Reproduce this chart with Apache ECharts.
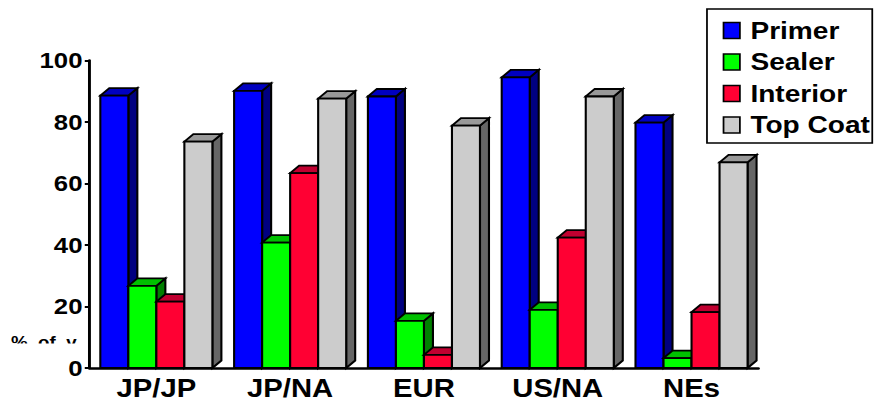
<!DOCTYPE html>
<html>
<head>
<meta charset="utf-8">
<script src="https://cdn.jsdelivr.net/npm/echarts@6/dist/echarts.min.js"></script>
<style>
html,body{margin:0;padding:0;background:#fff;overflow:hidden;}
#c{width:750px;height:404px;transform:scaleX(1.16933);transform-origin:0 0;}
</style>
</head>
<body>
<div id="c"></div>
<script>
// ---- data ----
const categories = ['JP/JP', 'JP/NA', 'EUR', 'US/NA', 'NEs'];
const seriesNames = ['Primer', 'Sealer', 'Interior', 'Top Coat'];
const primer   = [88.6, 90.1, 88.3, 94.5, 79.8];
const sealer   = [26.7, 40.8, 15.3, 18.9, 3.2];
const interior = [21.6, 63.4, 4.3, 42.4, 18.2];
const topCoat  = [73.6, 87.6, 78.8, 88.3, 66.9];
const yMin = 0, yMax = 100, yStep = 20;
const axisNameText = '%  of  v';

// ---- styles ----
const palette = [
  {front: '#0000FF', top: '#0000C0', side: '#000080'},
  {front: '#00FF00', top: '#00C000', side: '#008000'},
  {front: '#FF0033', top: '#C00030', side: '#C00030'},
  {front: '#CCCCCC', top: '#999999', side: '#666666'}
];
const BAR_FRAC = 0.2094;
const DEPTH_X = 7.7;
const DEPTH_Y = 7.5;
const LW = 1.8;
const FONT = 'Liberation Sans, Arial, sans-serif';

function makeRender(sIdx) {
  const col = palette[sIdx];
  return function (params, api) {
    const ci = api.value(0), v = api.value(1);
    const top = api.coord([ci, v]);
    const base = api.coord([ci, 0]);
    const band = api.size([1, 0])[0];
    const w = band * BAR_FRAC;
    const x0 = top[0] - 2 * w + sIdx * w;
    const yT = top[1], yB = base[1];
    const dx = DEPTH_X, dy = DEPTH_Y;
    const st = {stroke: '#000', lineWidth: LW, lineJoin: 'miter'};
    return {
      type: 'group',
      children: [
        {type: 'polygon', shape: {points: [[x0 + w, yT], [x0 + w + dx, yT - dy], [x0 + w + dx, yB - dy], [x0 + w, yB]]},
         style: Object.assign({fill: col.side}, st)},
        {type: 'polygon', shape: {points: [[x0, yT], [x0 + dx, yT - dy], [x0 + w + dx, yT - dy], [x0 + w, yT]]},
         style: Object.assign({fill: col.top}, st)},
        {type: 'rect', shape: {x: x0, y: yT, width: w, height: yB - yT},
         style: Object.assign({fill: col.front}, st)}
      ]
    };
  };
}

const allValues = [primer, sealer, interior, topCoat];
const series = allValues.map(function (vals, i) {
  return {
    name: seriesNames[i],
    type: 'custom',
    renderItem: makeRender(i),
    encode: {x: 0, y: 1},
    itemStyle: {color: palette[i].front, borderColor: '#000', borderWidth: 1.5},
    data: vals.map(function (v, k) { return [k, v]; })
  };
});

const chart = echarts.init(document.getElementById('c'), null, {renderer: 'svg'});
chart.setOption({
  animation: false,
  backgroundColor: '#fff',
  grid: {left: 76.5, top: 60.5, width: 572.1, height: 307.5, containLabel: false},
  xAxis: {
    type: 'category',
    data: categories,
    axisLine: {show: true, lineStyle: {color: '#000', width: 2.5}},
    axisTick: {show: false},
    axisLabel: {color: '#000', fontFamily: FONT, fontWeight: 'bold', fontSize: 25, margin: 8},
    splitLine: {show: false}
  },
  yAxis: {
    type: 'value',
    min: yMin, max: yMax, interval: yStep,
    axisLine: {show: true, lineStyle: {color: '#000', width: 2.5}},
    axisTick: {show: true, length: 4, lineStyle: {color: '#000', width: 2}},
    axisLabel: {color: '#000', fontFamily: FONT, fontWeight: 'bold', fontSize: 22, margin: 6, padding: [0, 0, 4, 0]},
    splitLine: {show: false}
  },
  legend: {
    orient: 'vertical',
    left: 604.6, top: 9,
    padding: [9.5, 2, 6, 13.4],
    itemGap: 7.5,
    itemWidth: 14, itemHeight: 16,
    icon: 'rect',
    borderColor: '#000', borderWidth: 1.5,
    backgroundColor: '#fff',
    textStyle: {fontFamily: FONT, fontWeight: 'bold', fontSize: 24, lineHeight: 24, color: '#000', padding: [0, 0, 0, 4]},
    data: seriesNames.map(function (n, i) {
      return {name: n, itemStyle: {color: palette[i].front, borderColor: '#000', borderWidth: 1.5}};
    })
  },
  graphic: [
    {type: 'text', left: 9.5, top: 334.5, z: 100,
     style: {text: axisNameText, fill: '#000', font: 'bold 16px Liberation Sans, Arial, sans-serif'}},
    {type: 'rect', left: 0, top: 343.5, z: 101, shape: {width: 74, height: 11}, style: {fill: '#fff'}}
  ],
  series: series
});
</script>
</body>
</html>
